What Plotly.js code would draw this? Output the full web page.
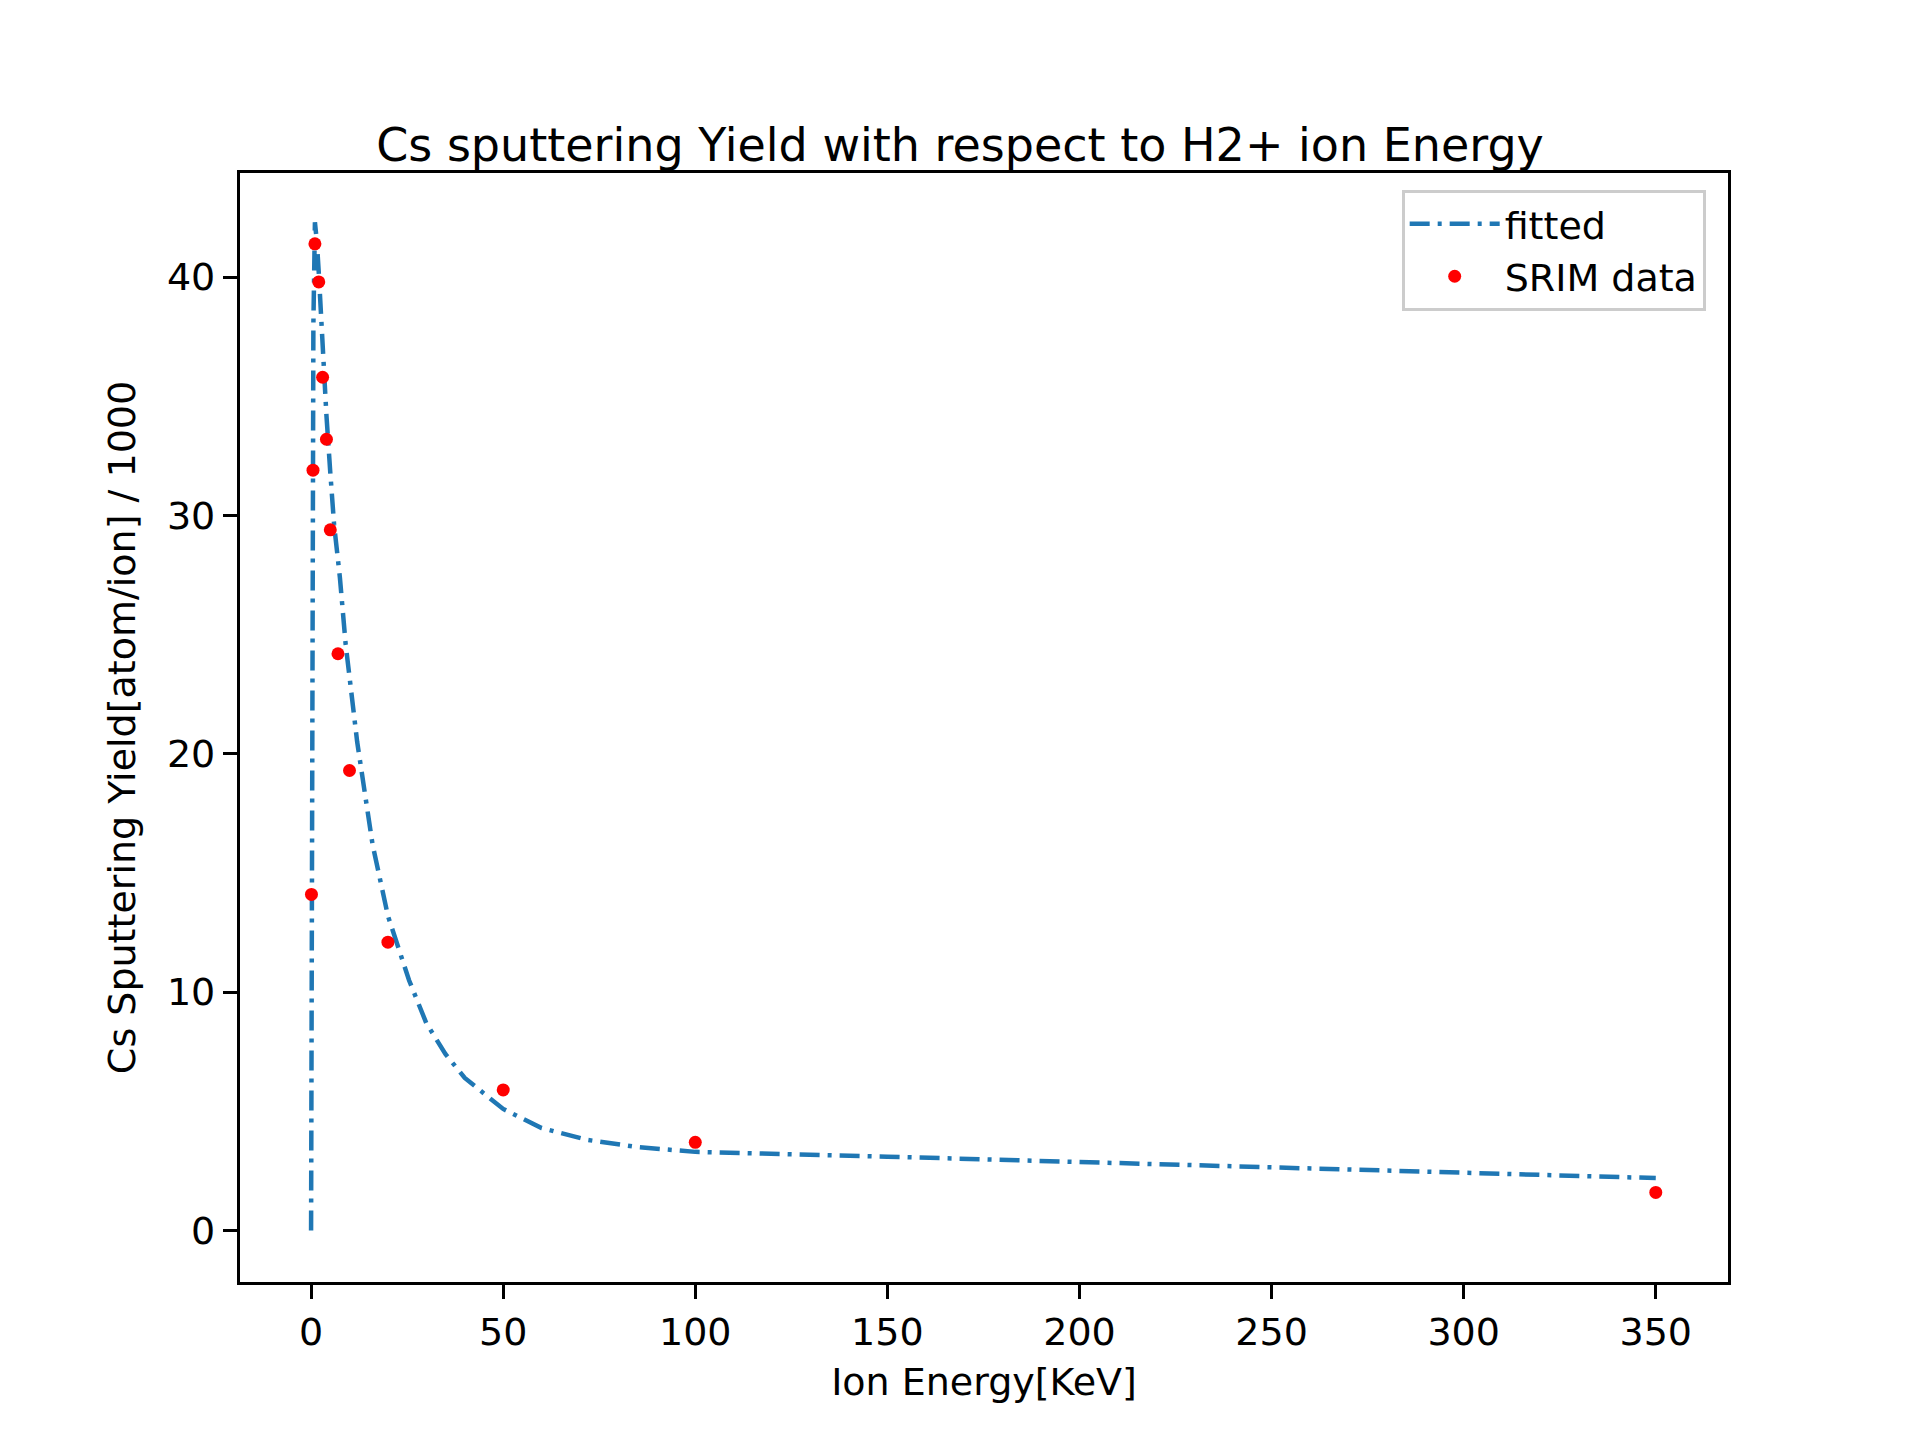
<!DOCTYPE html>
<html><head><meta charset="utf-8">
<script src="https://cdn.plot.ly/plotly-3.0.1.min.js"></script>
<style>body{margin:0;background:#fff}#chart{width:1920px;height:1440px}</style>
</head><body><div id="chart"></div>
<script>
// SRIM data points (keV, yield/1000)
const srimEnergy = [0.1, 0.5, 1, 2, 3, 4, 5, 7, 10, 20, 50, 100, 350];
const srimYield = [14.1, 31.9, 41.4, 39.8, 35.8, 33.2, 29.4, 24.2, 19.3, 12.1, 5.9, 3.7, 1.6];

// fitted curve
const fitEnergy = [0, 0.1, 0.3, 0.6, 1, 1.5, 2, 3, 4, 5, 6, 7.5, 9, 12, 16, 20, 25.5, 30, 35, 40, 50, 60, 72, 85, 100, 150, 200, 250, 300, 350];
const fitYield = [0, 8, 25, 38, 42.3, 41.5, 40.2, 37, 34.2, 31.8, 29.6, 27.4, 24.6, 20.5, 16.2, 13.2, 10.5, 8.7, 7.4, 6.4, 5.1, 4.3, 3.8, 3.5, 3.3, 3.1, 2.88, 2.65, 2.43, 2.2];

const fitted = {
    type: 'scatter', x: fitEnergy, y: fitYield, mode: 'lines', name: 'fitted',
    line: { color: '#1f77b4', width: 4.5, dash: '20px,8px,4px,8px' },
};
const srim = {
    type: 'scatter', x: srimEnergy, y: srimYield, mode: 'markers', name: 'SRIM data',
    marker: { color: 'red', size: 13 },
};

const axis = {
    showline: true, mirror: true, linecolor: '#000', linewidth: 3.3,
    ticks: 'outside', ticklen: 14, tickwidth: 3.3, tickcolor: '#000',
    showgrid: false, zeroline: false,
    tickfont: { size: 38, color: '#000' },
};

Plotly.newPlot('chart', [fitted, srim], {
    width: 1920, height: 1440,
    font: { family: 'DejaVu Sans', color: '#000' },
    paper_bgcolor: '#fff', plot_bgcolor: '#fff',
    margin: { l: 240, r: 192, t: 173, b: 158 },
    title: { text: 'Cs sputtering Yield with respect to H2+ ion Energy', font: { size: 46 }, x: 0.5, xanchor: 'center', y: 0.888, yanchor: 'bottom' },
    xaxis: Object.assign({}, axis, { range: [-18.5, 368.8], tickvals: [0, 50, 100, 150, 200, 250, 300, 350],
        title: { text: 'Ion Energy[KeV]', font: { size: 38 }, standoff: 16 } }),
    yaxis: Object.assign({}, axis, { range: [-2.16, 44.37], tickvals: [0, 10, 20, 30, 40],
        title: { text: 'Cs Sputtering Yield[atom/ion] / 1000', font: { size: 38 }, standoff: 20 } }),
    legend: { x: 0.985, y: 0.985, xanchor: 'right', yanchor: 'top', bgcolor: 'rgba(255,255,255,0.8)',
        bordercolor: '#ccc', borderwidth: 3, font: { size: 38 }, itemwidth: 90, tracegroupgap: 10 },
    showlegend: true,
}, { displayModeBar: false });
</script></body></html>
